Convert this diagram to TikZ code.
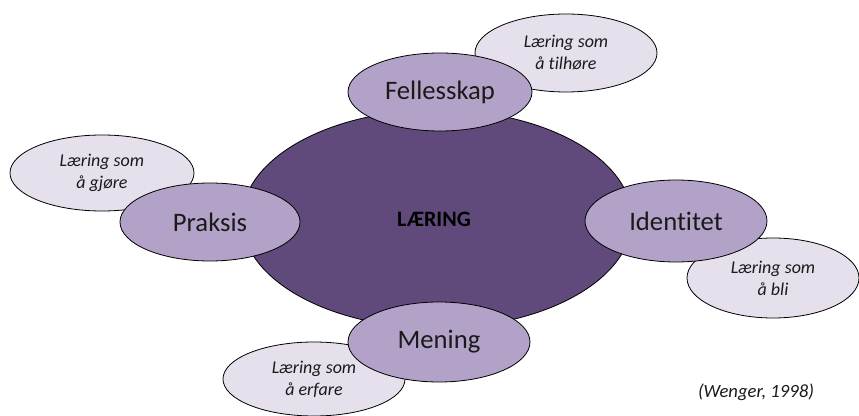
\documentclass[tikz,border=0pt]{standalone}
\usepackage{fontspec}
\setmainfont[Ligatures=NoCommon]{Carlito}
\usetikzlibrary{shapes.geometric}
\definecolor{coreFill}{HTML}{604A7B}
\definecolor{midFill}{HTML}{B3A2C7}
\definecolor{lightFill}{HTML}{E5E0EC}
\definecolor{inkText}{HTML}{1A1A1A}
\tikzset{
  x=0.75pt, y=-0.75pt,
  oval/.style={ellipse, draw=black, line width=0.6pt, inner sep=0pt, text=inkText},
  core/.style={oval, fill=coreFill, font=\fontsize{16}{19}\selectfont\bfseries, text=black},
  aspect/.style={oval, fill=midFill, font=\fontsize{20}{24}\selectfont},
  meaning/.style={oval, fill=lightFill, align=center, font=\fontsize{13.5}{16.5}\selectfont\itshape},
}
\begin{document}
\begin{tikzpicture}
\useasboundingbox (0,0) rectangle (859,416);
% central circle
\node[core, minimum width=292.5pt, minimum height=163.5pt] (laering) at (437,219) {};
\node[font=\fontsize{16.5}{19}\selectfont\bfseries, text=black] (laeringtxt) at (434,219) {LÆRING};
% outer descriptions
\node[meaning, minimum width=136.5pt, minimum height=58.5pt] (tilhore) at (566,53) {Læring som\\å tilhøre};
\node[meaning, minimum width=138pt, minimum height=57pt] (gjore) at (102,173) {Læring som\\å gjøre};
\node[meaning, minimum width=129pt, minimum height=60pt] (bli) at (773,278) {Læring som\\å bli};
\node[meaning, minimum width=136.5pt, minimum height=55.5pt] (erfare) at (314,379) {Læring som\\å erfare};
% the four components
\node[aspect, minimum width=138pt, minimum height=58.5pt] (fellesskap) at (440,92) {Fellesskap};
\node[aspect, minimum width=135pt, minimum height=58.5pt] (praksis) at (210,222) {Praksis};
\node[aspect, minimum width=136.5pt, minimum height=61.5pt] (identitet) at (676,221) {Identitet};
\node[aspect, minimum width=136.5pt, minimum height=60pt] (mening) at (439,342) {Mening};
% source
\node[font=\fontsize{14}{17}\selectfont\itshape, text=inkText] (kilde) at (756,392) {(Wenger, 1998)};
\end{tikzpicture}
\end{document}
